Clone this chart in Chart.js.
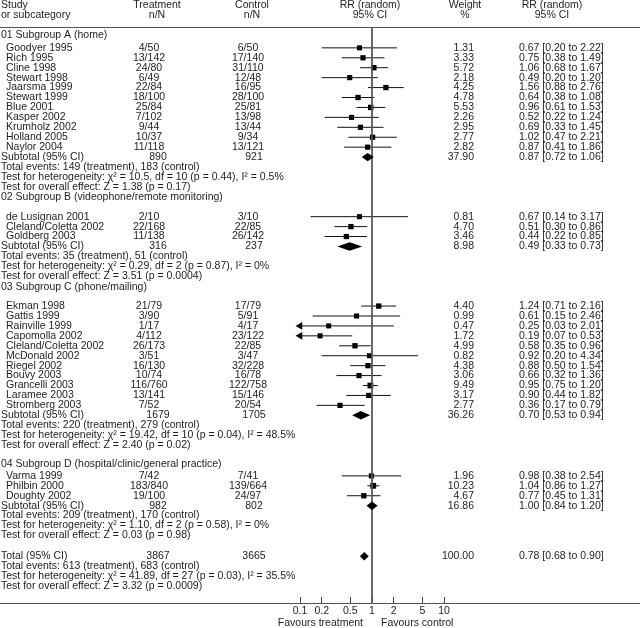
<!DOCTYPE html>
<html>
<head>
<meta charset="utf-8">
<script src="https://cdn.jsdelivr.net/npm/chart.js@4.4.0/dist/chart.umd.min.js"></script>
<style>
  html, body { margin: 0; padding: 0; background: #fff; }
  #wrap { width: 640px; height: 628px; }
</style>
</head>
<body>
<div id="wrap"><canvas id="forest" width="640" height="628"></canvas></div>
<script>
// --- studies ---
const studyNames = [
  'Goodyer 1995', 'Rich 1995', 'Cline 1998', 'Stewart 1998', 'Jaarsma 1999', 'Stewart 1999',
  'Blue 2001', 'Kasper 2002', 'Krumholz 2002', 'Holland 2005', 'Naylor 2004',
  'de Lusignan 2001', 'Cleland/Coletta 2002', 'Goldberg 2003',
  'Ekman 1998', 'Gattis 1999', 'Rainville 1999', 'Capomolla 2002', 'Cleland/Coletta 2002',
  'McDonald 2002', 'Riegel 2002', 'Bouvy 2003', 'Grancelli 2003', 'Laramee 2003', 'Stromberg 2003',
  'Varma 1999', 'Philbin 2000', 'Doughty 2002'
];
const studyGroup  = [0,0,0,0,0,0,0,0,0,0,0, 1,1,1, 2,2,2,2,2,2,2,2,2,2,2, 3,3,3];
const treatEvents = [4,13,24,6,22,18,25,7,9,10,11, 2,22,11, 21,3,1,4,26,3,16,10,116,13,7, 7,183,19];
const treatTotal  = [50,142,80,49,84,100,84,102,44,37,118, 10,168,138, 79,90,17,112,173,51,130,74,760,141,52, 42,840,100];
const ctrlEvents  = [6,17,31,12,16,28,25,13,13,9,13, 3,22,26, 17,5,4,23,22,3,32,16,122,15,20, 7,139,24];
const ctrlTotal   = [50,140,110,48,95,100,81,98,44,34,121, 10,85,142, 79,91,17,122,85,47,228,78,758,146,54, 41,664,97];
const studyWeight = [1.31,3.33,5.72,2.18,4.25,4.78,5.53,2.26,2.95,2.77,2.82, 0.81,4.70,3.46,
  4.40,0.99,0.47,1.72,4.99,0.82,4.38,3.06,9.49,3.17,2.77, 1.96,10.23,4.67];
const studyRR   = [0.67,0.75,1.06,0.49,1.56,0.64,0.96,0.52,0.69,1.02,0.87, 0.67,0.51,0.44,
  1.24,0.61,0.25,0.19,0.58,0.92,0.88,0.66,0.95,0.90,0.36, 0.98,1.04,0.77];
const studyLow  = [0.20,0.38,0.68,0.20,0.88,0.38,0.61,0.22,0.33,0.47,0.41, 0.14,0.30,0.22,
  0.71,0.15,0.03,0.07,0.35,0.20,0.50,0.32,0.75,0.44,0.17, 0.38,0.86,0.45];
const studyHigh = [2.22,1.49,1.67,1.20,2.76,1.08,1.53,1.24,1.45,2.21,1.86, 3.17,0.86,0.85,
  2.16,2.46,2.01,0.53,0.96,4.34,1.54,1.36,1.20,1.82,0.79, 2.54,1.27,1.31];

// --- subgroups ---
const groupNames = ['01 Subgroup A (home)', '02 Subgroup B (videophone/remote monitoring)',
  '03 Subgroup C (phone/mailing)', '04 Subgroup D (hospital/clinic/general practice)'];
const groupTreatTotal = [890, 316, 1679, 982];
const groupCtrlTotal  = [921, 237, 1705, 802];
const groupWeight = [37.90, 8.98, 36.26, 16.86];
const groupRR   = [0.87, 0.49, 0.70, 1.00];
const groupLow  = [0.72, 0.33, 0.53, 0.84];
const groupHigh = [1.06, 0.73, 0.94, 1.20];
const groupEventsT = [149, 35, 220, 209];
const groupEventsC = [183, 51, 279, 170];
const groupHet = ['χ² = 10.5, df = 10 (p = 0.44), I² = 0.5%', 'χ² = 0.29, df = 2 (p = 0.87), I² = 0%',
  'χ² = 19.42, df = 10 (p = 0.04), I² = 48.5%', 'χ² = 1.10, df = 2 (p = 0.58), I² = 0%'];
const groupZ = ['Z = 1.38 (p = 0.17)', 'Z = 3.51 (p = 0.0004)', 'Z = 2.40 (p = 0.02)', 'Z = 0.03 (p = 0.98)'];

// --- overall ---
const totalTreat = 3867, totalCtrl = 3665, totalWeight = 100.00;
const totalRR = 0.78, totalLow = 0.68, totalHigh = 0.90;
const totalEventsT = 613, totalEventsC = 683;
const totalHet = 'χ² = 41.89, df = 27 (p = 0.03), I² = 35.5%';
const totalZ = 'Z = 3.32 (p = 0.0009)';

const tickValues = [0.1, 0.2, 0.5, 1, 2, 5, 10];
const X_MIN = 0.1, X_MAX = 10;

// row layout (in line units)
const Y_MAX = 58;
const firstHeaderPos = 0.8;
const headerToFirst = [1.3, 2.0, 1.95, 1.2];
const beforeHeader = [0, 1.0, 1.05, 1.9];
const beforeTotal = 2.1;

const studyPos = [], headerPos = [], subPos = [];
let pos = firstHeaderPos;
for (let g = 0; g < groupNames.length; g++) {
  if (g > 0) pos += beforeHeader[g];
  headerPos.push(pos);
  pos += headerToFirst[g];
  studyNames.forEach((n, i) => {
    if (studyGroup[i] === g) { studyPos[i] = pos; pos += 1; }
  });
  subPos.push(pos);
  pos += 3;
}
pos += beforeTotal;
const totalPos = pos;

const FAMILY = '"Liberation Sans", Arial, sans-serif';
const FONT = '10.5px ' + FAMILY;
const INK = '#1e1e1e';

// CI segments, broken by null points
const ciData = [];
studyRR.forEach((r, i) => {
  ciData.push({ x: Math.max(studyLow[i], X_MIN), y: studyPos[i] });
  ciData.push({ x: Math.min(studyHigh[i], X_MAX), y: studyPos[i] });
  ciData.push({ x: null, y: null });
});
const arrowData = [];
studyLow.forEach((lo, i) => { if (lo < X_MIN) arrowData.push({ x: X_MIN, y: studyPos[i] }); });

const fmt = v => v.toFixed(2);
const ciText = (r, lo, hi) => fmt(r) + ' [' + fmt(lo) + ' to ' + fmt(hi) + ']';

const forestPlugin = {
  id: 'forest',
  afterDatasetsDraw(chart) {
    // summary diamonds
    const ctx = chart.ctx, xs = chart.scales.x, ys = chart.scales.y;
    const diamond = (r, lo, hi, p) => {
      const y = ys.getPixelForValue(p), h = 4.2;
      ctx.beginPath();
      ctx.moveTo(xs.getPixelForValue(lo), y);
      ctx.lineTo(xs.getPixelForValue(r), y - h);
      ctx.lineTo(xs.getPixelForValue(hi), y);
      ctx.lineTo(xs.getPixelForValue(r), y + h);
      ctx.closePath();
      ctx.fill();
    };
    ctx.save();
    ctx.fillStyle = '#000';
    groupRR.forEach((r, g) => diamond(r, groupLow[g], groupHigh[g], subPos[g]));
    diamond(totalRR, totalLow, totalHigh, totalPos);
    ctx.restore();
  },
  afterDraw(chart) {
    const ctx = chart.ctx, xs = chart.scales.x, ys = chart.scales.y, area = chart.chartArea;
    const W = chart.width;
    ctx.save();
    // full width rules
    ctx.strokeStyle = '#555';
    ctx.lineWidth = 1;
    ctx.beginPath();
    ctx.moveTo(0, Math.round(area.top) + 0.5); ctx.lineTo(W, Math.round(area.top) + 0.5);
    ctx.moveTo(0, Math.round(area.bottom) + 0.5); ctx.lineTo(W, Math.round(area.bottom) + 0.5);
    ctx.stroke();

    ctx.font = FONT;
    ctx.fillStyle = INK;
    ctx.textBaseline = 'middle';
    const t = (s, x, p, align) => {
      ctx.textAlign = align || 'left';
      ctx.fillText(s, x, ys.getPixelForValue(p));
    };

    // column header
    t('Study', 1, -2.2); t('or subcategory', 1, -1.2);
    t('Treatment', 157, -2.2, 'center'); t('n/N', 157, -1.2, 'center');
    t('Control', 252, -2.2, 'center'); t('n/N', 252, -1.2, 'center');
    t('RR (random)', 370, -2.2, 'center'); t('95% CI', 370, -1.2, 'center');
    t('Weight', 465, -2.2, 'center'); t('%', 465, -1.2, 'center');
    t('RR (random)', 552, -2.2, 'center'); t('95% CI', 552, -1.2, 'center');

    // studies
    studyNames.forEach((n, i) => {
      const p = studyPos[i];
      t(n, 6, p);
      t(treatEvents[i] + '/' + treatTotal[i], 149, p, 'center');
      t(ctrlEvents[i] + '/' + ctrlTotal[i], 248, p, 'center');
      t(fmt(studyWeight[i]), 474, p, 'right');
      t(ciText(studyRR[i], studyLow[i], studyHigh[i]), 519, p);
    });

    const summary = (label, p, tn, cn, w, r, lo, hi, et, ec, het, z) => {
      t(label, 1, p);
      t(String(tn), 158, p, 'center');
      t(String(cn), 254, p, 'center');
      t(fmt(w), 474, p, 'right');
      t(ciText(r, lo, hi), 519, p);
      t('Total events: ' + et + ' (treatment), ' + ec + ' (control)', 1, p + 1);
      t('Test for heterogeneity: ' + het, 1, p + 2);
      t('Test for overall effect: ' + z, 1, p + 3);
    };
    groupNames.forEach((g, k) => {
      t(g, 1, headerPos[k]);
      summary('Subtotal (95% CI)', subPos[k], groupTreatTotal[k], groupCtrlTotal[k], groupWeight[k],
        groupRR[k], groupLow[k], groupHigh[k], groupEventsT[k], groupEventsC[k], groupHet[k], groupZ[k]);
    });
    summary('Total (95% CI)', totalPos, totalTreat, totalCtrl, totalWeight,
      totalRR, totalLow, totalHigh, totalEventsT, totalEventsC, totalHet, totalZ);

    // favours labels
    const x1 = xs.getPixelForValue(1);
    ctx.textAlign = 'right';
    ctx.fillText('Favours treatment', x1 - 9, 623);
    ctx.textAlign = 'left';
    ctx.fillText('Favours control', x1 + 9, 623);
    ctx.restore();
  }
};

new Chart(document.getElementById('forest'), {
  type: 'scatter',
  data: {
    datasets: [
      { label: 'no effect', data: [{ x: 1, y: 0 }, { x: 1, y: Y_MAX }], showLine: true,
        borderColor: '#555', borderWidth: 1, pointRadius: 0 },
      { label: 'CI', data: ciData, showLine: true, spanGaps: false,
        borderColor: '#111', borderWidth: 1, pointRadius: 0 },
      { label: 'RR', data: studyRR.map((r, i) => ({ x: r, y: studyPos[i] })),
        pointStyle: 'rect', pointRadius: studyWeight.map(w => 3.5 + 0.06 * w),
        backgroundColor: '#000', borderWidth: 0 },
      { label: 'off scale', data: arrowData, pointStyle: 'triangle', rotation: 270,
        pointRadius: 4.5, backgroundColor: '#000', borderWidth: 0, clip: false }
    ]
  },
  options: {
    responsive: false,
    animation: false,
    events: [],
    layout: { padding: { left: 300, right: 196, top: 27, bottom: 0 } },
    plugins: { legend: { display: false }, tooltip: { enabled: false } },
    scales: {
      x: {
        type: 'logarithmic', min: X_MIN, max: X_MAX, position: 'bottom',
        afterBuildTicks: s => { s.ticks = tickValues.map(v => ({ value: v })); },
        afterFit: s => { s.height = 25; },
        ticks: { autoSkip: false, maxRotation: 0, color: INK, padding: 8,
          font: { family: FAMILY, size: 10.5 },
          callback: v => String(v) },
        grid: { drawOnChartArea: false, drawTicks: true, tickLength: -6, color: '#444' },
        border: { display: false }
      },
      y: { type: 'linear', reverse: true, min: 0, max: Y_MAX, display: false }
    }
  },
  plugins: [forestPlugin]
});
</script>
</body>
</html>
